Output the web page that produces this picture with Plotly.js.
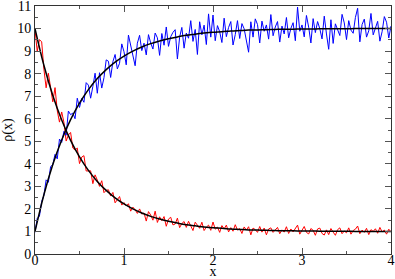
<!DOCTYPE html>
<html>
<head>
<meta charset="utf-8">
<script src="https://cdn.plot.ly/plotly-3.0.1.min.js"></script>
<style>
  html, body { margin: 0; padding: 0; background: #fff; }
  #plot { width: 395px; height: 279px; }
</style>
</head>
<body>
<div id="plot"></div>
<script>
// sampling grid of the noisy data: x = 0 .. 4 in steps of 0.025
const xStep = 0.025;
const nPts = 161;

// decaying density (red)
const redNoisy = [
  9.95, 8.99, 9.51, 9.41, 8.20, 7.37, 8.02, 7.41, 6.75, 7.38,
  6.36, 5.85, 6.30, 5.84, 5.01, 5.28, 5.39, 4.70, 4.61, 4.70,
  4.01, 4.30, 4.36, 3.68, 3.69, 3.69, 3.12, 3.51, 3.28, 3.00,
  3.25, 2.72, 2.82, 2.85, 2.57, 2.73, 2.27, 2.43, 2.55, 2.17,
  2.28, 2.13, 2.23, 1.90, 2.08, 1.96, 1.80, 2.00, 1.77, 1.82,
  1.46, 1.88, 1.73, 1.50, 1.90, 1.40, 1.65, 1.48, 1.66, 1.23,
  1.55, 1.63, 1.29, 1.33, 1.59, 1.17, 1.35, 1.44, 1.18, 1.45,
  1.21, 1.04, 1.41, 1.29, 1.14, 1.41, 1.04, 1.19, 1.28, 1.05,
  1.42, 1.10, 1.19, 0.96, 1.26, 1.11, 1.28, 0.98, 1.17, 1.01,
  1.30, 1.06, 1.13, 0.91, 1.20, 1.06, 1.21, 0.85, 1.15, 1.08,
  0.96, 1.22, 0.97, 1.15, 0.85, 1.11, 1.16, 0.96, 1.06, 1.18,
  0.90, 1.07, 0.97, 1.21, 0.91, 1.11, 0.98, 1.12, 1.28, 0.88,
  1.08, 1.22, 0.96, 0.89, 1.13, 1.05, 0.83, 1.11, 1.15, 0.91,
  0.84, 1.07, 0.86, 1.13, 0.97, 0.83, 1.08, 1.16, 0.90, 1.02,
  0.94, 1.16, 0.88, 1.04, 1.10, 1.24, 0.90, 1.06, 0.96, 1.14,
  0.86, 1.08, 1.00, 1.12, 0.92, 1.18, 0.98, 1.06, 0.88, 1.10,
  0.98
];

// growing density (blue)
const blueNoisy = [
  0.96, 1.58, 1.68, 2.33, 2.60, 3.29, 3.18, 3.87, 3.97, 4.42,
  4.22, 5.10, 4.95, 5.44, 5.27, 6.34, 6.18, 6.25, 6.00, 6.91,
  6.50, 6.90, 6.73, 7.60, 7.49, 6.91, 7.43, 8.02, 7.13, 8.04,
  7.36, 7.82, 8.61, 8.55, 7.83, 8.53, 8.85, 8.21, 8.46, 9.32,
  8.97, 8.39, 9.71, 9.27, 8.90, 8.35, 9.35, 9.70, 9.02, 9.35,
  8.83, 9.73, 9.36, 9.09, 9.80, 9.59, 8.81, 9.78, 9.26, 10.07,
  9.21, 9.64, 9.83, 9.95, 8.65, 9.62, 10.05, 9.13, 9.80, 9.57,
  10.35, 9.43, 9.96, 8.85, 10.30, 9.72, 10.15, 9.29, 10.65, 9.62,
  10.60, 9.46, 10.13, 9.86, 9.38, 10.46, 9.64, 10.05, 10.31, 9.27,
  9.73, 10.35, 9.56, 10.22, 9.99, 9.47, 8.95, 10.30, 9.62, 10.43,
  10.18, 9.36, 10.33, 9.88, 10.16, 9.53, 10.62, 9.68, 10.07, 10.31,
  9.40, 10.11, 9.76, 10.49, 9.59, 10.01, 10.26, 9.46, 10.95, 9.88,
  10.16, 9.63, 10.58, 10.06, 9.36, 10.44, 9.82, 10.31, 9.99, 9.54,
  10.55, 9.76, 9.08, 10.39, 9.34, 10.21, 9.97, 9.69, 10.63, 10.25,
  9.51, 10.35, 9.93, 9.79, 10.49, 10.90, 9.41, 10.18, 10.42, 9.62,
  9.90, 10.67, 9.72, 10.07, 10.32, 9.44, 9.86, 10.53, 10.28, 9.58,
  10.11
];

// smooth fitted curves (black), x = 0 .. 4 in steps of 0.1
const fitX = [
  0.0, 0.1, 0.2, 0.3, 0.4, 0.5, 0.6, 0.7, 0.8, 0.9,
  1.0, 1.1, 1.2, 1.3, 1.4, 1.5, 1.6, 1.7, 1.8, 1.9,
  2.0, 2.1, 2.2, 2.3, 2.4, 2.5, 2.6, 2.7, 2.8, 2.9,
  3.0, 3.1, 3.2, 3.3, 3.4, 3.5, 3.6, 3.7, 3.8, 3.9, 4.0
];
const redFit = [
  10.0, 8.37, 7.03, 5.94, 5.04, 4.31, 3.71, 3.22, 2.82, 2.49,
  2.22, 2.00, 1.82, 1.67, 1.55, 1.45, 1.37, 1.30, 1.25, 1.20,
  1.16, 1.14, 1.11, 1.09, 1.07, 1.06, 1.05, 1.04, 1.03, 1.03,
  1.02, 1.02, 1.01, 1.01, 1.01, 1.01, 1.00, 1.00, 1.00, 1.00, 1.00
];
const blueFit = [
  1.00, 2.63, 3.97, 5.06, 5.96, 6.69, 7.29, 7.78, 8.18, 8.51,
  8.78, 9.00, 9.18, 9.33, 9.45, 9.55, 9.63, 9.70, 9.75, 9.80,
  9.84, 9.86, 9.89, 9.91, 9.93, 9.94, 9.95, 9.96, 9.97, 9.97,
  9.98, 9.98, 9.99, 9.99, 9.99, 9.99, 10.0, 10.0, 10.0, 10.0, 10.0
];

const xNoisy = [];
for (let i = 0; i < nPts; i++) xNoisy.push(+(i * xStep).toFixed(3));

const serif = '"Liberation Serif", "Times New Roman", serif';

const traces = [
  { x: xNoisy, y: redNoisy, mode: 'lines', type: 'scatter',
    line: { color: '#ff0000', width: 1 } },
  { x: xNoisy, y: blueNoisy, mode: 'lines', type: 'scatter',
    line: { color: '#0000ff', width: 1 } },
  { x: fitX, y: redFit, mode: 'lines', type: 'scatter',
    line: { color: '#000000', width: 1.5, shape: 'spline' } },
  { x: fitX, y: blueFit, mode: 'lines', type: 'scatter',
    line: { color: '#000000', width: 1.5, shape: 'spline' } }
];

const axisCommon = {
  showgrid: false,
  zeroline: false,
  showline: true,
  linecolor: '#333',
  linewidth: 1,
  mirror: 'allticks',
  ticks: 'inside',
  ticklen: 6,
  tickcolor: '#555',
  ticklabeloverflow: 'allow',
  tickfont: { family: serif, size: 14, color: '#000' },
  minor: { ticks: 'inside', ticklen: 3, tickcolor: '#555', showgrid: false },
  automargin: false
};

const layout = {
  width: 395,
  height: 279,
  showlegend: false,
  paper_bgcolor: '#fff',
  plot_bgcolor: '#fff',
  margin: { l: 35, r: 4, t: 6, b: 25 },
  xaxis: Object.assign({}, axisCommon, {
    range: [0, 4], dtick: 1, tick0: 0,
    ticklabelstandoff: -7,
    minor: Object.assign({}, axisCommon.minor, { dtick: 0.5 }),
    title: { text: 'x', font: { family: serif, size: 14, color: '#000' }, standoff: 3 }
  }),
  yaxis: Object.assign({}, axisCommon, {
    range: [0, 11], dtick: 1, tick0: 0,
    minor: Object.assign({}, axisCommon.minor, { dtick: 0.5 }),
    title: { text: 'ρ(x)', font: { family: serif, size: 14, color: '#000' }, standoff: 2 }
  })
};

Plotly.newPlot('plot', traces, layout, { staticPlot: true });
</script>
</body>
</html>
